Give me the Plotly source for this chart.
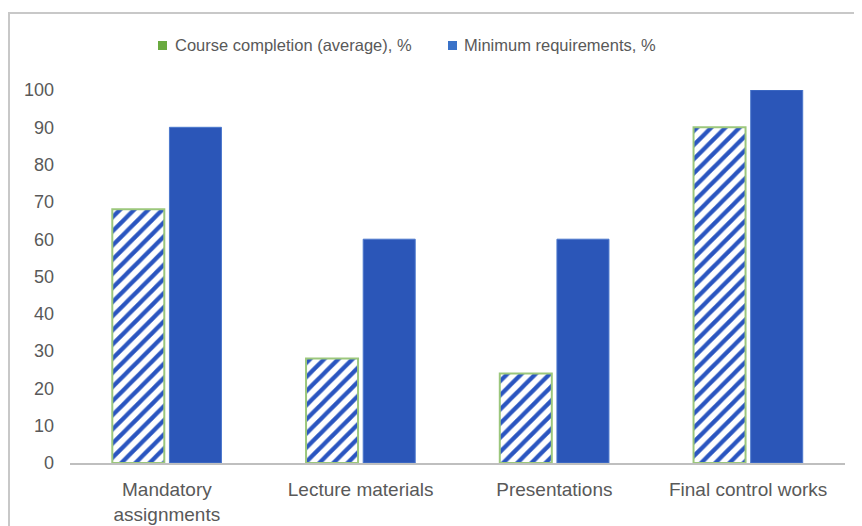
import plotly.graph_objects as go

categories = ["Mandatory<br>assignments", "Lecture materials", "Presentations", "Final control works"]
completion = [68, 28, 24, 90]
minimum = [90, 60, 60, 100]
series_names = ["Course completion (average), %", "Minimum requirements, %"]
y_ticks = [0, 10, 20, 30, 40, 50, 60, 70, 80, 90, 100]

BLUE = "#2B56B8"
TXT = "#595959"
FONT = "Liberation Sans, Arial, sans-serif"

# plot area in screen pixels (page has an 8px body margin)
PX0, PX1 = 70, 845
PY_TOP, PY_BOT = 90, 463


def px(x):
    return (x - PX0) / (PX1 - PX0)


def py(y):
    return (PY_BOT - y) / (PY_BOT - PY_TOP)


fig = go.Figure()
fig.add_trace(go.Bar(
    x=categories, y=completion, name=series_names[0], showlegend=False,
    marker=dict(color="white", line=dict(color="#9CC77C", width=2),
                pattern=dict(shape="/", fgcolor="#2A55C0", bgcolor="white",
                             size=10, solidity=0.42, fillmode="replace")),
))
fig.add_trace(go.Bar(
    x=categories, y=minimum, name=series_names[1], showlegend=False,
    marker=dict(color=BLUE, line=dict(color="#4C78CC", width=1)),
))

legend_sq = [(158, "#6AAA40"), (448, "#3A72C8")]
legend_tx = [173, 462]
shapes = [dict(type="rect", xref="paper", yref="paper",
               x0=px(9), x1=1.04, y0=-0.22, y1=py(13),
               line=dict(color="#C8C8C8", width=2), fillcolor="rgba(0,0,0,0)",
               layer="below")]
annotations = []
for (sx, col), tx, name in zip(legend_sq, legend_tx, series_names):
    shapes.append(dict(type="rect", xref="paper", yref="paper",
                       x0=px(sx), x1=px(sx + 9), y0=py(50), y1=py(41),
                       line=dict(width=0), fillcolor=col))
    annotations.append(dict(xref="paper", yref="paper", x=px(tx), y=py(45),
                            xanchor="left", yanchor="middle", showarrow=False,
                            text=name, font=dict(size=16.5, color=TXT, family=FONT)))

fig.update_layout(
    width=854, height=518,
    margin=dict(l=62, r=17, t=82, b=63, autoexpand=False),
    paper_bgcolor="white", plot_bgcolor="white",
    font=dict(family=FONT, size=16, color=TXT),
    barmode="group", bargap=0.41, bargroupgap=0.09,
    showlegend=False,
    xaxis=dict(showgrid=False, showline=True, linecolor="#BFBFBF", linewidth=2,
               ticks="", tickfont=dict(size=19, color=TXT), zeroline=False,
               automargin=False, ticklabelstandoff=8),
    yaxis=dict(range=[0, 100], tickvals=y_ticks, showgrid=False, showline=False,
               zeroline=False, ticks="", ticklabelstandoff=15, automargin=False,
               tickfont=dict(size=18, color=TXT)),
    shapes=shapes,
    annotations=annotations,
)

fig.write_html("out.html")
